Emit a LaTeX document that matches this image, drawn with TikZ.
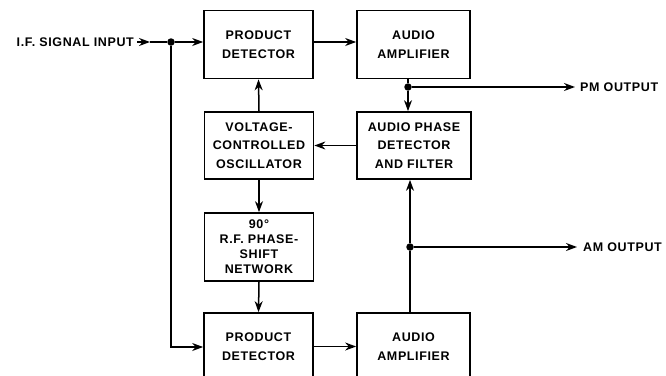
\documentclass[tikz,border=0pt]{standalone}
\usepackage{fontspec}
\setmainfont{Liberation Sans}[LetterSpace=5]
\usetikzlibrary{arrows.meta}
\begin{document}
\begin{tikzpicture}[x=1pt,y=-1pt,
 blk/.style={draw,line width=1.7pt,minimum width=109pt,minimum height=68pt,align=center,inner sep=0pt,font=\bfseries\fontsize{12.5}{18.5}\selectfont},
 wire/.style={line width=1.5pt},
 arr/.style={wire,-{Stealth[length=11pt,width=8pt]}},
 lbl/.style={font=\bfseries\fontsize{12.5}{15}\selectfont,inner sep=0pt},
 dot/.style={circle,fill,inner sep=0pt,minimum size=7.5pt}]
\useasboundingbox (0,0) rectangle (666,375);
\clip (0,0) rectangle (666,375);
% blocks
\node[blk] (PD1) at (258.5,44.5) {PRODUCT\\DETECTOR};
\node[blk,minimum width=113pt] (AA1) at (413.5,44.5) {AUDIO\\AMPLIFIER};
\node[blk,minimum height=67pt] (VCO) at (259,145.5) {VOLTAGE-\\CONTROLLED\\OSCILLATOR};
\node[blk,minimum width=114pt,minimum height=67pt] (APD) at (414,145.5) {AUDIO PHASE\\DETECTOR\\AND FILTER};
\node[blk,font=\bfseries\fontsize{12.5}{15}\selectfont] (PS) at (259,247) {90°\\R.F. PHASE-\\SHIFT\\NETWORK};
\node[blk,minimum height=67pt] (PD2) at (258.5,346.5) {PRODUCT\\DETECTOR};
\node[blk,minimum width=113pt,minimum height=67pt] (AA2) at (413.5,346.5) {AUDIO\\AMPLIFIER};
% input
\coordinate (in) at (137,42);
\coordinate (ah) at (150,42);
\node[lbl,anchor=east] (tin) at (134,42) {I.F. SIGNAL INPUT};
\node[dot] (j1) at (171,42) {};
\draw[arr] (in) -- (ah);
\draw[wire] (ah) -- (j1);
\draw[arr] (j1) -- (j1 -| PD1.west);
\coordinate (c1) at (171,347);
\draw[arr] (j1) -- (c1) -- (c1 -| PD2.west);
\draw[arr] (j1 -| PD1.east) -- (j1 -| AA1.west);
% PM output
\node[dot] (j2) at (408,87) {};
\draw[wire] (j2 |- AA1.south) -- (j2);
\draw[arr] (j2) -- (j2 |- APD.north);
\coordinate (pm) at (575,87);
\draw[arr] (j2) -- (pm);
\node[lbl,anchor=west] (tpm) at (580,87) {PM OUTPUT};
% loop
\draw[arr] (APD.west) -- (VCO.east);
\draw[arr] (VCO.north) -- (PD1.south);
\draw[arr] (VCO.south) -- (PS.north);
\draw[arr] (PS.south) -- (PD2.north);
\draw[arr] (PD2.east) -- (AA2.west);
% AM output
\node[dot] (j3) at (410,247) {};
\draw[wire] (j3 |- AA2.north) -- (j3);
\draw[arr] (j3) -- (j3 |- APD.south);
\coordinate (am) at (577,247);
\draw[arr] (j3) -- (am);
\node[lbl,anchor=west] (tam) at (583,247) {AM OUTPUT};
\end{tikzpicture}
\end{document}
